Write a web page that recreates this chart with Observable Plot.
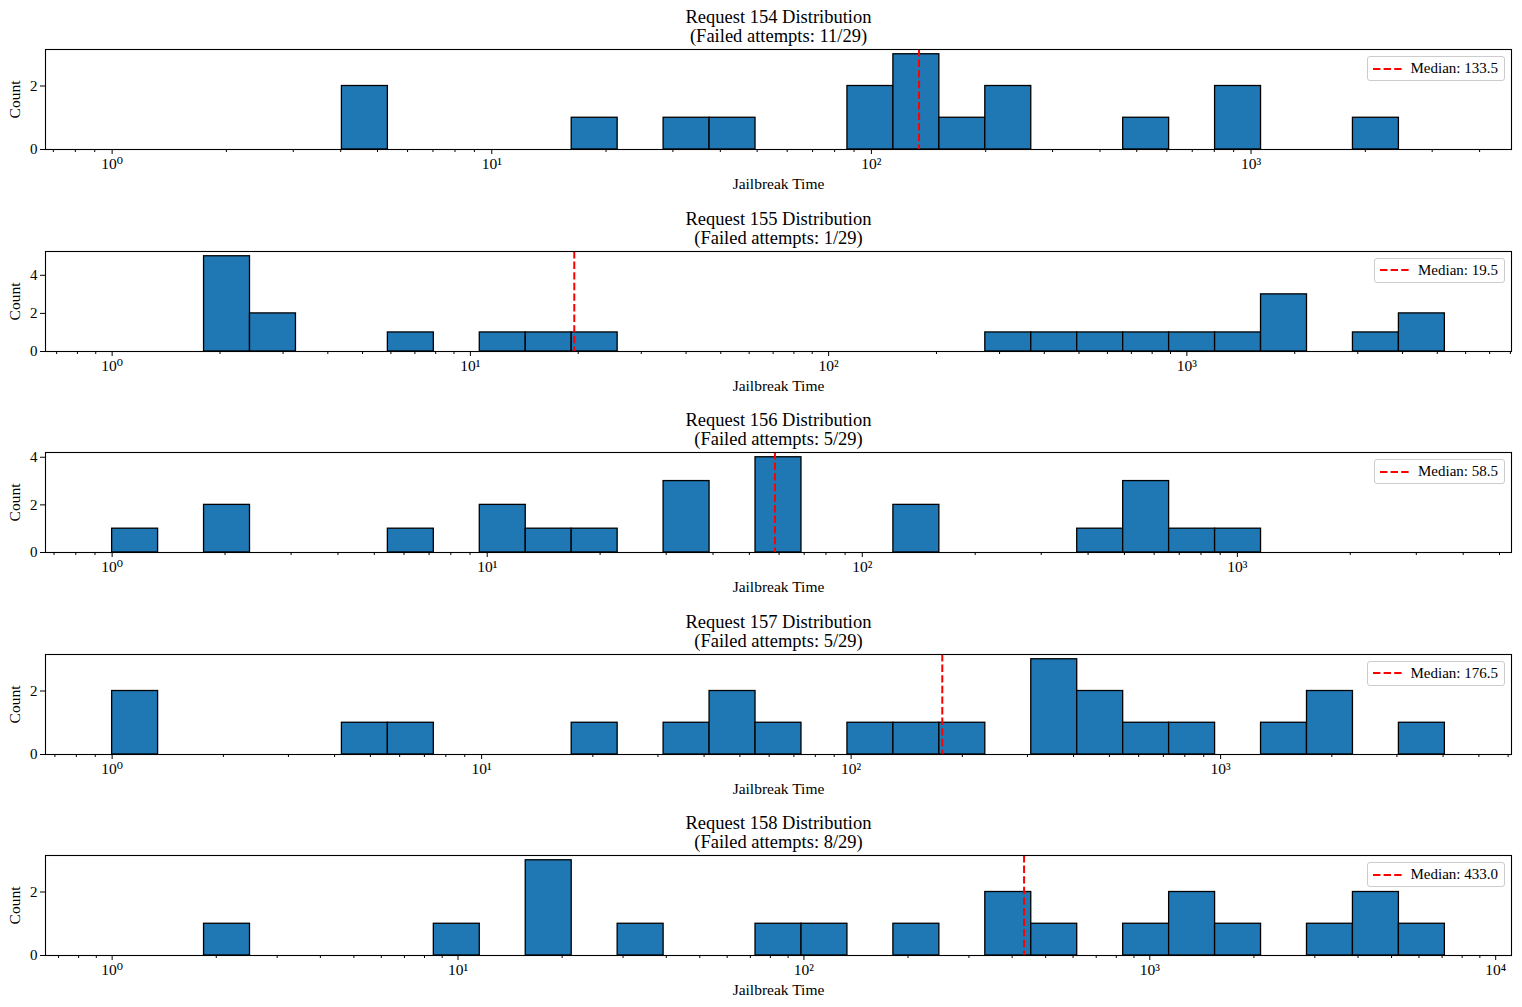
<!DOCTYPE html>
<html>
<head>
<meta charset="utf-8">
<script src="https://cdn.jsdelivr.net/npm/d3@7"></script>
<script src="https://cdn.jsdelivr.net/npm/@observablehq/plot@0.6"></script>
<style>
  html, body { margin: 0; padding: 0; background: #fff; }
  body { width: 1522px; height: 1007px; overflow: hidden; font-family: "Liberation Serif", "DejaVu Serif", serif; }
  .panel { position: relative; width: 1522px; height: 201.5px; }
  .panel svg { display: block; position: absolute; left: 0; top: 0; }
  .legend { position: absolute; right: 17px; top: 56px; height: 23px; display: flex; align-items: center;
            border: 1px solid #cccccc; border-radius: 3px; background: rgba(255,255,255,0.8);
            padding: 0 6px 0 5px; font-size: 15px; color: #000; }
  .legend svg { position: static; margin-right: 8px; }
</style>
</head>
<body>
<div id="chart"></div>
<script>
// ---- data ----
const requests = [154, 155, 156, 157, 158];
const failedAttempts = [11, 1, 5, 5, 8];
const totalAttempts = 29;
const medians = [133.5, 19.5, 58.5, 176.5, 433.0];
const binMin = [1, 1, 1, 1, 1];
const binMax = [3240, 5250, 3575, 4045, 7130];
const counts154 = [0,0,0,0,0,2,0,0,0,0,1,0,1,1,0,0,2,3,1,2,0,0,1,0,2,0,0,1,0];
const counts155 = [0,0,5,2,0,0,1,0,1,1,1,0,0,0,0,0,0,0,0,1,1,1,1,1,1,3,0,1,2];
const counts156 = [1,0,2,0,0,0,1,0,2,1,1,0,3,0,4,0,0,2,0,0,0,1,3,1,1,0,0,0,0];
const counts157 = [2,0,0,0,0,1,1,0,0,0,1,0,1,2,1,0,1,1,1,0,3,2,1,1,0,1,2,0,1];
const counts158 = [0,0,1,0,0,0,0,1,0,3,0,1,0,0,1,1,0,1,0,2,1,0,1,2,1,0,1,2,1];
const allCounts = [counts154, counts155, counts156, counts157, counts158];
const yTickSets = [[0, 2], [0, 2, 4], [0, 2, 4], [0, 2], [0, 2]];
const xLabel = "Jailbreak Time";
const yLabel = "Count";

const sup = {"0":"⁰","1":"¹","2":"²","3":"³","4":"⁴","5":"⁵","-":"⁻"};
const fmtPow = d => "10" + String(Math.round(Math.log10(d))).split("").map(c => sup[c]).join("");

const chart = document.getElementById("chart");

requests.forEach((req, i) => {
  const counts = allCounts[i];
  const nb = counts.length;
  const lmin = Math.log10(binMin[i]), lmax = Math.log10(binMax[i]);
  const bins = counts.map((c, k) => ({
    x1: Math.pow(10, lmin + (lmax - lmin) * k / nb),
    x2: Math.pow(10, lmin + (lmax - lmin) * (k + 1) / nb),
    count: c
  }));
  const R = lmax - lmin;
  const lo = Math.pow(10, lmin - 0.05 * R), hi = Math.pow(10, lmax + 0.05 * R);
  const major = [], minor = [];
  for (let e = Math.floor(Math.log10(lo)); e <= Math.ceil(Math.log10(hi)); e++) {
    const p = Math.pow(10, e);
    if (p >= lo && p <= hi) major.push(p);
    for (let m = 2; m <= 9; m++) { const v = m * p; if (v >= lo && v <= hi) minor.push(v); }
  }
  const ymax = d3.max(counts) * 1.05;
  const title = `Request ${req} Distribution\n(Failed attempts: ${failedAttempts[i]}/${totalAttempts})`;

  const plot = Plot.plot({
    width: 1522, height: 201.5,
    marginLeft: 45, marginRight: 11, marginTop: 49, marginBottom: 52.5,
    style: { fontFamily: '"Liberation Serif", "DejaVu Serif", serif', fontSize: "15px", background: "transparent", color: "#000" },
    x: { type: "log", domain: [lo, hi], axis: null },
    y: { domain: [0, ymax], axis: null },
    marks: [
      Plot.rectY(bins.filter(b => b.count > 0), { x1: "x1", x2: "x2", y: "count", fill: "#1f77b4", stroke: "#000", strokeWidth: 1.3, insetLeft: 0, insetRight: 0 }),
      Plot.ruleX([medians[i]], { stroke: "red", strokeWidth: 2, strokeDasharray: "7.4,3.2" }),
      Plot.frame({ stroke: "#000", strokeWidth: 1.1 }),
      Plot.axisX(major, { anchor: "bottom", tickSize: 5, tickPadding: 3, tickFormat: fmtPow, label: null, fontSize: 15.5 }),
      Plot.axisX(minor, { anchor: "bottom", tickSize: 3, tickFormat: () => "", label: null }),
      Plot.axisY(yTickSets[i], { anchor: "left", tickSize: 5, tickPadding: 3, tickFormat: d3.format("d"), label: null, fontSize: 15 }),
      Plot.text([title], { text: d => d, frameAnchor: "top", dy: -8, lineAnchor: "bottom", fontSize: 18.5, lineHeight: 0.98 }),
      Plot.text([xLabel], { text: d => d, frameAnchor: "bottom", dy: 35, lineAnchor: "middle", fontSize: 15.5 }),
      Plot.text([yLabel], { text: d => d, frameAnchor: "left", dx: -30, rotate: -90, textAnchor: "middle", lineAnchor: "middle", fontSize: 15.5 })
    ]
  });

  const wrap = document.createElement("div");
  wrap.className = "panel";
  wrap.appendChild(plot);
  const leg = document.createElement("div");
  leg.className = "legend";
  leg.innerHTML = `<svg width="30" height="6"><line x1="0" y1="3" x2="30" y2="3" stroke="red" stroke-width="2" stroke-dasharray="7.4,3.2"/></svg><span>Median: ${medians[i].toFixed(1)}</span>`;
  wrap.appendChild(leg);
  chart.appendChild(wrap);
});
</script>
</body>
</html>
